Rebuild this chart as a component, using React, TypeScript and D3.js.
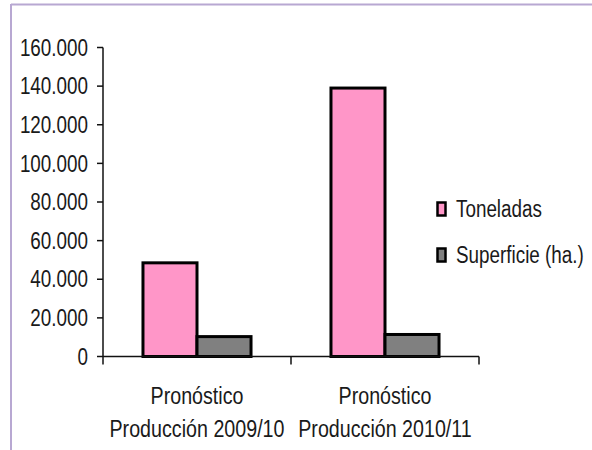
import React from "react";
import * as d3 from "d3";

const categories = ["Pronóstico|Producción 2009/10", "Pronóstico|Producción 2010/11"];
const seriesNames = ["Toneladas", "Superficie (ha.)"];
const toneladas = [48500, 139000];
const superficie = [10300, 11400];
const yTicks = [0, 20000, 40000, 60000, 80000, 100000, 120000, 140000, 160000];

const colors = ["#ff96c8", "#808080"];
const FONT = "'Liberation Sans', Arial, sans-serif";
// condensed look: horizontal squeeze of a regular sans
const SX = 0.82;

const W = 592;
const H = 450;
const plot = { left: 103, right: 479, top: 47.5, bottom: 356.5 };

const fmt = (v: number) => d3.format(",")(v).replace(/,/g, ".");

function Label(props: { x: number; y: number; anchor?: string; size: number; baseline?: string; children: React.ReactNode }) {
  const { x, y, anchor = "start", size, baseline, children } = props;
  return (
    <text
      transform={`translate(${x},${y}) scale(${SX},1)`}
      textAnchor={anchor}
      dominantBaseline={baseline}
      fontSize={size}
      fill="#1a1a1a"
    >
      {children}
    </text>
  );
}

export default function App() {
  const x0 = d3.scaleBand<string>().domain(categories).range([plot.left, plot.right]).padding(0);
  const x1 = d3
    .scaleBand<string>()
    .domain(seriesNames)
    .range([0, x0.bandwidth()])
    .paddingInner(0)
    .paddingOuter(0.74);
  const y = d3.scaleLinear().domain([0, 160000]).range([plot.bottom, plot.top]);

  const rows = categories.map((c, i) => ({ c, vals: [toneladas[i], superficie[i]] }));

  return (
    <svg
      width={W}
      height={H}
      style={{ position: "absolute", left: 0, top: 0, background: "#fff" }}
      fontFamily={FONT}
    >
      {/* frame */}
      <line x1={11} y1={4.5} x2={W} y2={4.5} stroke="#b8a8d2" strokeWidth={2} />
      <line x1={11} y1={4} x2={11} y2={H} stroke="#b8a8d2" strokeWidth={2} />

      {/* bars */}
      {rows.map((r) => (
        <g key={r.c} transform={`translate(${x0(r.c)},0)`}>
          {r.vals.map((v, j) => (
            <rect
              key={j}
              x={x1(seriesNames[j])}
              y={y(v)}
              width={x1.bandwidth()}
              height={y(0) - y(v)}
              fill={colors[j]}
              stroke="#000"
              strokeWidth={3}
            />
          ))}
        </g>
      ))}

      {/* y axis */}
      <line x1={plot.left} y1={plot.top} x2={plot.left} y2={plot.bottom} stroke="#111" strokeWidth={1.5} />
      {yTicks.map((t) => (
        <g key={t}>
          <line x1={plot.left - 6} x2={plot.left} y1={y(t)} y2={y(t)} stroke="#111" strokeWidth={1.5} />
          <Label x={88} y={y(t)} anchor="end" baseline="central" size={23}>
            {fmt(t)}
          </Label>
        </g>
      ))}

      {/* x axis */}
      <line x1={plot.left} y1={plot.bottom} x2={plot.right} y2={plot.bottom} stroke="#111" strokeWidth={1.5} />
      {[...categories.map((c) => x0(c) as number), plot.right].map((px, i) => (
        <line key={i} x1={px} x2={px} y1={plot.bottom} y2={plot.bottom + 8} stroke="#111" strokeWidth={1.5} />
      ))}
      {categories.map((c) => {
        const [a, b] = c.split("|");
        const cx = (x0(c) as number) + x0.bandwidth() / 2;
        return (
          <g key={c}>
            <Label x={cx} y={404} anchor="middle" size={24}>{a}</Label>
            <Label x={cx} y={437} anchor="middle" size={24}>{b}</Label>
          </g>
        );
      })}

      {/* legend */}
      {seriesNames.map((s, i) => {
        const cy = 209 + i * 46;
        return (
          <g key={s}>
            <rect x={437.5} y={cy - 6.5} width={8} height={13} fill={colors[i]} stroke="#000" strokeWidth={2.5} />
            <Label x={456} y={cy} baseline="central" size={23}>
              {s}
            </Label>
          </g>
        );
      })}
    </svg>
  );
}
